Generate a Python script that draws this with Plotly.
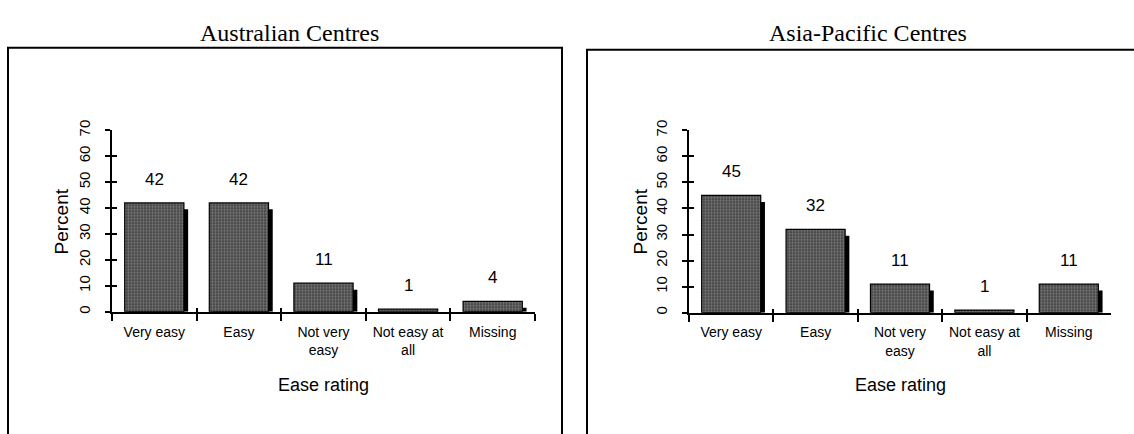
import plotly.graph_objects as go

# ---- data ----
categories = ["Very easy", "Easy", "Not very<br>easy", "Not easy at<br>all", "Missing"]
australian_values = [42, 42, 11, 1, 4]
asia_pacific_values = [45, 32, 11, 1, 11]
panel_titles = ["Australian Centres", "Asia-Pacific Centres"]
y_ticks = [0, 10, 20, 30, 40, 50, 60, 70]
x_title = "Ease rating"
y_title = "Percent"

W, H = 1134, 434
SANS = "Arial, Liberation Sans, sans-serif"
SERIF = "Times New Roman, Liberation Serif, serif"

panels = [
    dict(values=australian_values, title=panel_titles[0],
         xa="x", ya="y", xo="x3", yo="y3",
         xdom=(112 / W, 535 / W), ydom=(1 - 310 / H, 1 - 123 / H),
         box=(8, 38, 562), title_x=289, ytitle_x=61),
    dict(values=asia_pacific_values, title=panel_titles[1],
         xa="x2", ya="y2", xo="x4", yo="y4",
         xdom=(689 / W, 1111 / W), ydom=(1 - 311 / H, 1 - 123 / H),
         box=(587, 40, 1140), title_x=868, ytitle_x=640),
]

fig = go.Figure()
annotations = []
shapes = []

BAR_W = 0.7
SHADOW_SHIFT = 0.05

for p in panels:
    vals = p["values"]
    shadow = [max(v - 2.5, 0) for v in vals]
    # shadow bars
    fig.add_trace(go.Bar(
        x=categories, y=shadow, xaxis=p["xa"], yaxis=p["ya"],
        width=BAR_W, offset=-BAR_W / 2 + SHADOW_SHIFT,
        marker=dict(color="black", line=dict(width=0)),
        hoverinfo="skip", showlegend=False))
    # main bars
    fig.add_trace(go.Bar(
        x=categories, y=vals, xaxis=p["xa"], yaxis=p["ya"],
        width=BAR_W, offset=-BAR_W / 2,
        marker=dict(color="#4a4a4a", line=dict(color="black", width=1.2),
                    pattern=dict(shape=".", fgcolor="#b4b4b4", bgcolor="#3a3a3a",
                                 size=3, solidity=0.5)),
        showlegend=False))
    # invisible trace for overlay tick axes
    fig.add_trace(go.Scatter(
        x=categories, y=[None] * len(categories), xaxis=p["xo"], yaxis=p["yo"],
        mode="markers", showlegend=False, hoverinfo="skip"))

    # value labels
    for c, v in zip(categories, vals):
        annotations.append(dict(
            x=c, y=v, xref=p["xa"], yref=p["ya"], text=str(v),
            showarrow=False, yanchor="bottom", yshift=12,
            font=dict(family=SANS, size=17, color="black")))

    # panel title
    annotations.append(dict(
        x=p["title_x"] / W, y=1 - 23 / H, xref="paper", yref="paper",
        text=p["title"], showarrow=False, xanchor="center", yanchor="middle",
        font=dict(family=SERIF, size=24, color="black")))
    # axis titles
    annotations.append(dict(
        x=(p["xdom"][0] + p["xdom"][1]) / 2, y=1 - 386 / H,
        xref="paper", yref="paper", text=x_title, showarrow=False,
        xanchor="center", yanchor="middle",
        font=dict(family=SANS, size=18, color="black")))
    annotations.append(dict(
        x=p["ytitle_x"] / W, y=1 - 217 / H,
        xref="paper", yref="paper", text=y_title, showarrow=False,
        textangle=-90, xanchor="center", yanchor="middle",
        font=dict(family=SANS, size=19, color="black")))

    # panel frame
    bx0, by0, bx1 = p["box"]
    shapes.append(dict(type="rect", xref="paper", yref="paper",
                       x0=bx0 / W, x1=bx1 / W, y0=-0.05, y1=1 - by0 / H,
                       line=dict(color="black", width=2)))

layout = dict(
    width=W, height=H,
    margin=dict(l=0, r=0, t=0, b=0),
    paper_bgcolor="white", plot_bgcolor="white",
    barmode="overlay", bargap=0.3,
    showlegend=False,
    annotations=annotations, shapes=shapes,
)

for p in panels:
    xk = "xaxis" + p["xa"][1:]
    yk = "yaxis" + p["ya"][1:]
    xok = "xaxis" + p["xo"][1:]
    yok = "yaxis" + p["yo"][1:]
    layout[xk] = dict(
        domain=list(p["xdom"]), anchor=p["ya"], type="category",
        categoryorder="array", categoryarray=categories, range=[-0.5, 4.5],
        showline=True, linecolor="black", linewidth=2,
        ticks="outside", tickson="boundaries", ticklen=7, tickwidth=2, tickcolor="black",
        showgrid=False, zeroline=False, ticklabelstandoff=6,
        tickfont=dict(family=SANS, size=14, color="black"))
    layout[yk] = dict(
        domain=list(p["ydom"]), anchor=p["xa"], range=[0, 70],
        tickmode="array", tickvals=y_ticks, ticktext=[str(t) for t in y_ticks],
        showline=True, linecolor="black", linewidth=2,
        ticks="outside", ticklen=5, tickwidth=2, tickcolor="black",
        tickangle=-90, ticklabelstandoff=9,
        showgrid=False, zeroline=False,
        tickfont=dict(family=SANS, size=15, color="black"))
    layout[xok] = dict(
        overlaying=p["xa"], anchor=p["yo"], type="category",
        categoryorder="array", categoryarray=categories, range=[-0.5, 4.5],
        showline=False, ticks="inside", tickson="boundaries", ticklen=4,
        tickwidth=2, tickcolor="black", showticklabels=False,
        showgrid=False, zeroline=False)
    layout[yok] = dict(
        overlaying=p["ya"], anchor=p["xo"], range=[0, 70],
        tickmode="array", tickvals=y_ticks,
        showline=False, ticks="inside", ticklen=5, tickwidth=2,
        tickcolor="black", showticklabels=False,
        showgrid=False, zeroline=False)

fig.update_layout(**layout)
fig.write_html("out.html",
               config={"displayModeBar": False},
               post_script="document.body.style.margin='0';document.body.style.overflow='hidden';")
